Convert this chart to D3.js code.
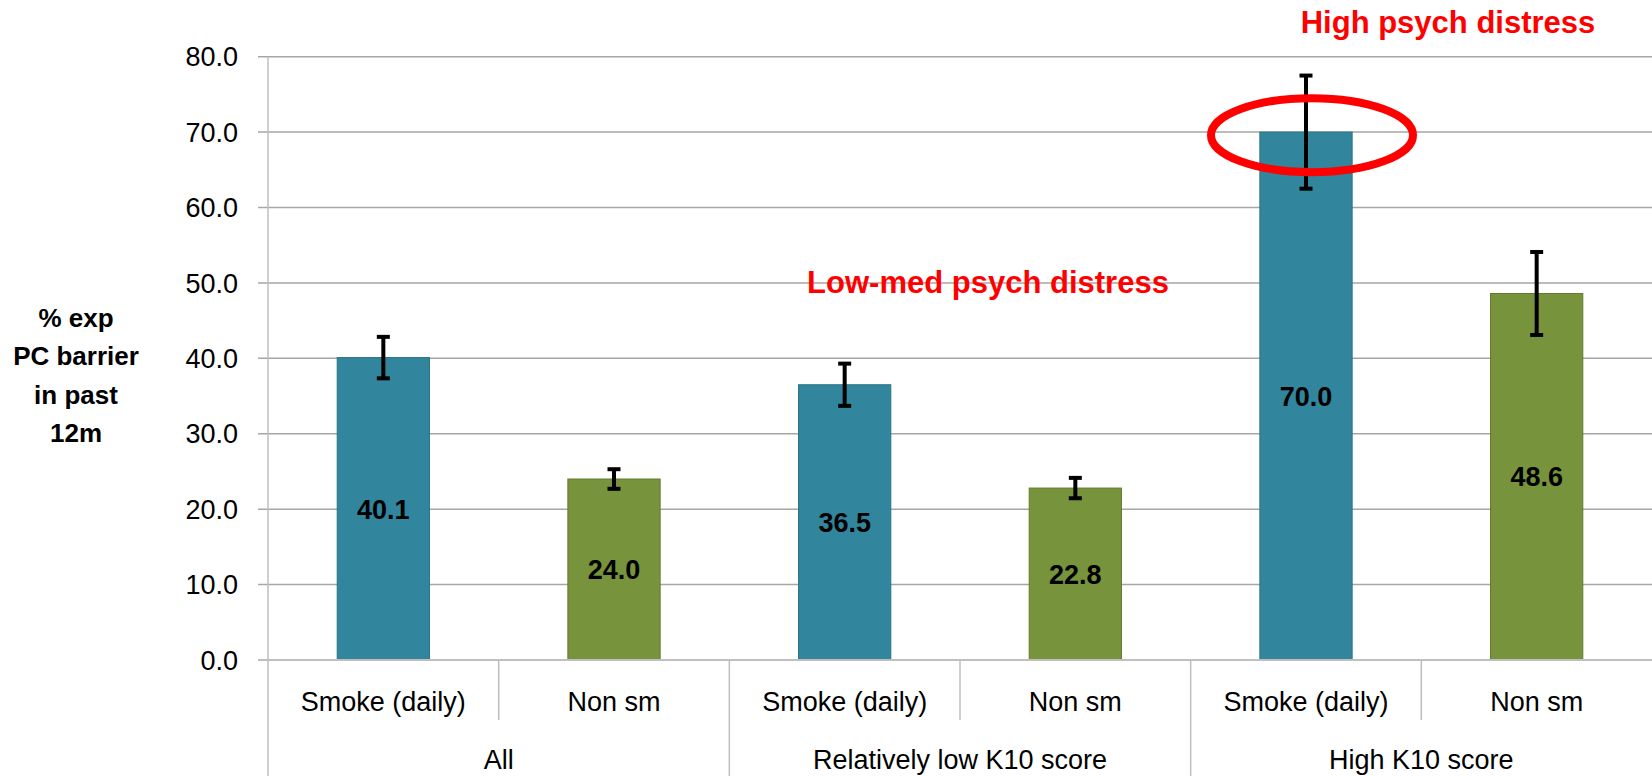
<!DOCTYPE html>
<html>
<head>
  <meta charset=utf-8>
  <title>PC barrier by smoking and K10 score</title>
  <script src="https://d3js.org/d3.v7.min.js"></script>
  <style>
    body { margin: 0; background: #fff; }
    svg { display: block; font-family: "Liberation Sans", Arial, sans-serif; }
  </style>
</head>
<body>
<div id="chart"></div>
<script>

// data
var groups = ['All', 'Relatively low K10 score', 'High K10 score'];
var smokeCats = ['Smoke (daily)', 'Non sm'];
var values = [40.1, 24.0, 36.5, 22.8, 70.0, 48.6];
var errors = [2.75, 1.3, 2.8, 1.35, 7.5, 5.5];
var yTicks = [0, 10, 20, 30, 40, 50, 60, 70, 80];
var yTitle = ['% exp', 'PC barrier', 'in past', '12m'];

var width = 1652, height = 776;
// note: "top" is taken by window.top, so prefix these
var plotLeft = 268, plotRight = 1652, plotTop = 56.7, plotBottom = 660;
var colors = { 'Smoke (daily)': '#31859c', 'Non sm': '#77933c' };
var strokes = { 'Smoke (daily)': '#2a7387', 'Non sm': '#617a2f' };

// one row per bar
var rows = values.map(function (v, i) {
  return {
    i: i,
    group: groups[Math.floor(i / 2)],
    cat: smokeCats[i % 2],
    value: v,
    err: errors[i]
  };
});

var svg = d3.select('#chart').append('svg')
  .attr('width', width)
  .attr('height', height);

var x = d3.scaleBand()
  .domain(rows.map(function (d) { return d.i; }))
  .range([plotLeft, plotRight])
  .paddingInner(0.6)
  .paddingOuter(0.3);

var y = d3.scaleLinear()
  .domain([0, 80])
  .range([plotBottom, plotTop]);

var step = x.step();

function cx(d) { return x(d.i) + x.bandwidth() / 2; }

// gridlines (with small tick stubs on the left)
svg.append('g')
  .selectAll('line')
  .data(yTicks.filter(function (t) { return t > 0; }))
  .enter().append('line')
    .attr('x1', plotLeft - 10)
    .attr('x2', plotRight)
    .attr('y1', function (t) { return y(t); })
    .attr('y2', function (t) { return y(t); })
    .attr('stroke', '#a6a6a6')
    .attr('stroke-width', 1.5);

// tick labels
svg.append('g')
  .selectAll('text')
  .data(yTicks)
  .enter().append('text')
    .attr('x', 238)
    .attr('y', function (t) { return y(t); })
    .attr('dy', '0.36em')
    .attr('text-anchor', 'end')
    .attr('font-size', 27)
    .attr('fill', '#000')
    .text(function (t) { return t.toFixed(1); });

// y axis title
svg.append('text')
  .attr('x', 76)
  .attr('y', 327)
  .attr('text-anchor', 'middle')
  .attr('font-size', 26)
  .attr('font-weight', 'bold')
  .selectAll('tspan')
  .data(yTitle)
  .enter().append('tspan')
    .attr('x', 76)
    .attr('dy', function (d, i) { return i ? 38.3 : 0; })
    .text(function (d) { return d; });

// bars
svg.append('g')
  .selectAll('rect')
  .data(rows)
  .enter().append('rect')
    .attr('x', function (d) { return x(d.i); })
    .attr('y', function (d) { return y(d.value); })
    .attr('width', x.bandwidth())
    .attr('height', function (d) { return y(0) - y(d.value); })
    .attr('fill', function (d) { return colors[d.cat]; })
    .attr('stroke', function (d) { return strokes[d.cat]; })
    .attr('stroke-width', 1);

// value labels, centred in the bar
svg.append('g')
  .selectAll('text')
  .data(rows)
  .enter().append('text')
    .attr('x', cx)
    .attr('y', function (d) { return (y(d.value) + y(0)) / 2; })
    .attr('dy', '0.36em')
    .attr('text-anchor', 'middle')
    .attr('font-size', 27)
    .attr('font-weight', 'bold')
    .attr('fill', '#000')
    .text(function (d) { return d.value.toFixed(1); });

// error bars
var eb = svg.append('g')
  .selectAll('g')
  .data(rows)
  .enter().append('g')
    .attr('stroke', '#000')
    .attr('stroke-width', 4);

eb.append('line')
  .attr('x1', cx).attr('x2', cx)
  .attr('y1', function (d) { return y(d.value + d.err); })
  .attr('y2', function (d) { return y(d.value - d.err); });
eb.append('line')
  .attr('x1', function (d) { return cx(d) - 6.5; })
  .attr('x2', function (d) { return cx(d) + 6.5; })
  .attr('y1', function (d) { return y(d.value + d.err); })
  .attr('y2', function (d) { return y(d.value + d.err); });
eb.append('line')
  .attr('x1', function (d) { return cx(d) - 6.5; })
  .attr('x2', function (d) { return cx(d) + 6.5; })
  .attr('y1', function (d) { return y(d.value - d.err); })
  .attr('y2', function (d) { return y(d.value - d.err); });

// x axis line at zero
svg.append('line')
  .attr('x1', plotLeft - 10).attr('x2', plotRight)
  .attr('y1', y(0)).attr('y2', y(0))
  .attr('stroke', '#bfbfbf')
  .attr('stroke-width', 2);

// y axis line, running down through the category area
svg.append('line')
  .attr('x1', plotLeft).attr('x2', plotLeft)
  .attr('y1', plotTop).attr('y2', height)
  .attr('stroke', '#bfbfbf')
  .attr('stroke-width', 1.5);

// dividers between categories (short) and groups (long)
svg.append('g')
  .selectAll('line')
  .data(d3.range(1, rows.length))
  .enter().append('line')
    .attr('x1', function (k) { return x(k) - step * 0.3; })
    .attr('x2', function (k) { return x(k) - step * 0.3; })
    .attr('y1', y(0))
    .attr('y2', function (k) { return k % 2 === 0 ? height : 720; })
    .attr('stroke', '#bfbfbf')
    .attr('stroke-width', 1.5);

// category labels
svg.append('g')
  .selectAll('text')
  .data(rows)
  .enter().append('text')
    .attr('x', cx)
    .attr('y', 711)
    .attr('text-anchor', 'middle')
    .attr('font-size', 27)
    .text(function (d) { return d.cat; });

// group labels
svg.append('g')
  .selectAll('text')
  .data(groups)
  .enter().append('text')
    .attr('x', function (g, k) { return (x(k * 2) + x(k * 2 + 1) + x.bandwidth()) / 2; })
    .attr('y', 769)
    .attr('text-anchor', 'middle')
    .attr('font-size', 27)
    .text(function (g) { return g; });

// red annotations
svg.append('ellipse')
  .attr('cx', cx(rows[4]) + 6)
  .attr('cy', y(69.6))
  .attr('rx', 101)
  .attr('ry', 37)
  .attr('fill', 'none')
  .attr('stroke', '#ff0000')
  .attr('stroke-width', 8);

svg.append('text')
  .attr('x', 1448)
  .attr('y', 33)
  .attr('text-anchor', 'middle')
  .attr('font-size', 31)
  .attr('font-weight', 'bold')
  .attr('fill', '#ff0000')
  .text('High psych distress');

svg.append('text')
  .attr('x', 988)
  .attr('y', 293)
  .attr('text-anchor', 'middle')
  .attr('font-size', 31)
  .attr('font-weight', 'bold')
  .attr('fill', '#ff0000')
  .text('Low-med psych distress');

</script>
</body>
</html>
